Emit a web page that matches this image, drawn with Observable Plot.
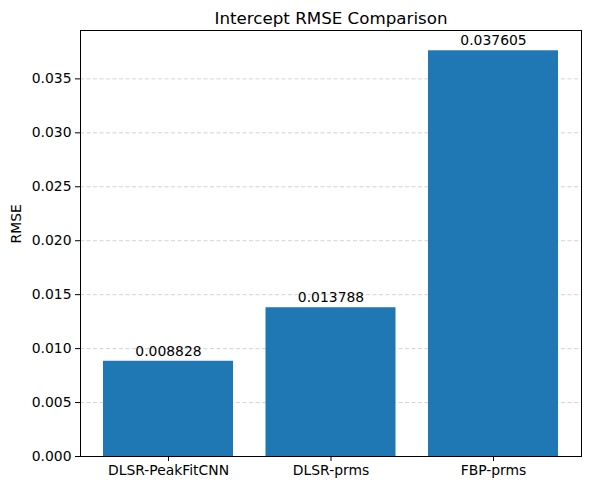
<!DOCTYPE html>
<html>
<head>
<meta charset="utf-8">
<script src="https://cdn.jsdelivr.net/npm/d3@7"></script>
<script src="https://cdn.jsdelivr.net/npm/@observablehq/plot@0.6"></script>
<style>
  html, body { margin: 0; padding: 0; background: #fff; }
</style>
</head>
<body>
<div id="chart"></div>
<script>
const methods = ["DLSR-PeakFitCNN", "DLSR-prms", "FBP-prms"];
const rmse = [0.008828, 0.013788, 0.037605];
const yTicks = [0, 0.005, 0.01, 0.015, 0.02, 0.025, 0.03, 0.035];
const titleText = "Intercept RMSE Comparison";

const data = methods.map((m, i) => ({method: m, value: rmse[i], label: rmse[i].toFixed(6)}));

const FS = 13.9;
const chart = Plot.plot({
  width: 590,
  height: 490,
  marginTop: 30,
  marginBottom: 34,
  marginLeft: 80,
  marginRight: 9,
  style: {fontFamily: "DejaVu Sans", fontSize: FS + "px", color: "#000", background: "#fff"},
  x: {domain: methods, paddingInner: 0.2, paddingOuter: 0.1415, round: false, label: null},
  y: {domain: [0, 0.039485], label: null},
  marks: [
    Plot.ruleY(yTicks.slice(1), {stroke: "#b0b0b0", strokeOpacity: 0.7, strokeDasharray: "4,2.5", strokeWidth: 0.8}),
    Plot.barY(data, {x: "method", y: "value", fill: "#1f77b4"}),
    Plot.text(data, {x: "method", y: "value", text: "label", dy: -5.5, lineAnchor: "bottom", fill: "#000", fontSize: FS}),
    Plot.axisY(yTicks, {tickFormat: d3.format(".3f"), tickSize: 5, tickPadding: 4, fontSize: FS, label: null}),
    Plot.axisX({tickSize: 5, tickPadding: 4, fontSize: FS, label: null}),
    Plot.text(["RMSE"], {frameAnchor: "left", dx: -64, rotate: -90, fontSize: FS, fill: "#000"}),
    Plot.text([titleText], {frameAnchor: "top", lineAnchor: "bottom", dy: -7, fontSize: 16.7, fill: "#000"}),
    Plot.frame({stroke: "#000", strokeWidth: 1})
  ]
});
document.getElementById("chart").appendChild(chart);
</script>
</body>
</html>
